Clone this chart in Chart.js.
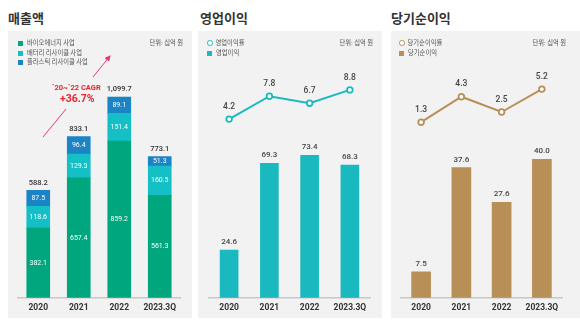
<!DOCTYPE html>
<html>
<head>
<meta charset="utf-8">
<script src="https://cdn.jsdelivr.net/npm/chart.js@4.4.0/dist/chart.umd.min.js"></script>
<style>
  body { margin: 0; width: 580px; height: 324px; background: #fff; position: relative; overflow: hidden;
         font-family: 'Noto Sans CJK KR', sans-serif; }
  .title { position: absolute; top: 8px; font-size: 13px; font-weight: bold; color: #333; line-height: 20px; }
  .panel { position: absolute; top: 31px; height: 287px; background: #f2f2f2; }
  canvas { position: absolute; top: 31px; }
  .leg { position: absolute; font-size: 6.3px; color: #555; line-height: 8px; white-space: nowrap; }
  .sq { display: inline-block; width: 5px; height: 5px; margin-right: 4px; vertical-align: -0.5px; }
  .ci { display: inline-block; width: 3.5px; height: 3.5px; border-radius: 50%; border: 1.3px solid; margin-right: 3px; vertical-align: -0.5px; background: #fff; }
  .unit { position: absolute; top: 39px; font-size: 6.3px; color: #555; line-height: 8px; white-space: nowrap; }
  .cagr { position: absolute; color: #e8232f; font-weight: bold; font-family: Roboto, sans-serif; white-space: nowrap; }
</style>
</head>
<body>
<div class="title" style="left:8px">매출액</div>
<div class="title" style="left:200px">영업이익</div>
<div class="title" style="left:391px">당기순이익</div>

<div class="panel" style="left:8px;width:184px"></div>
<div class="panel" style="left:198px;width:184px"></div>
<div class="panel" style="left:391px;width:189px"></div>

<canvas id="sales" width="184" height="287" style="left:8px"></canvas>
<canvas id="op" width="184" height="287" style="left:198px"></canvas>
<canvas id="net" width="184" height="287" style="left:391px"></canvas>

<div class="leg" style="left:18px;top:39px"><span class="sq" style="background:#00a67e"></span>바이오에너지 사업</div>
<div class="leg" style="left:18px;top:49px"><span class="sq" style="background:#14bfc6"></span>배터리 리사이클 사업</div>
<div class="leg" style="left:18px;top:58px"><span class="sq" style="background:#1b84c4"></span>플라스틱 리사이클 사업</div>
<div class="unit" style="right:397px">단위: 십억 원</div>

<div class="leg" style="left:207px;top:39px"><span class="ci" style="border-color:#1ab9c0"></span>영업이익률</div>
<div class="leg" style="left:207px;top:49px"><span class="sq" style="background:#1ab9c0"></span>영업이익</div>
<div class="unit" style="right:207px">단위: 십억 원</div>

<div class="leg" style="left:399px;top:39px"><span class="ci" style="border-color:#b98f58"></span>당기순이익률</div>
<div class="leg" style="left:399px;top:49px"><span class="sq" style="background:#b98f58"></span>당기순이익</div>
<div class="unit" style="right:14px">단위: 십억 원</div>

<svg style="position:absolute;left:0;top:0" width="580" height="324">
  <defs>
    <marker id="ah" markerWidth="6" markerHeight="6" refX="5" refY="3" orient="auto">
      <path d="M0,0 L6,3 L0,6 z" fill="#e8386a"/>
    </marker>
  </defs>
  <line x1="43" y1="137" x2="66" y2="109" stroke="#e8386a" stroke-width="1"/>
  <line x1="93" y1="77" x2="110" y2="56" stroke="#e8386a" stroke-width="1" marker-end="url(#ah)"/>
</svg>
<div class="cagr" style="left:52px;top:83px;font-size:7.5px">`20~`22 CAGR</div>
<div class="cagr" style="left:60px;top:92px;font-size:10.5px">+36.7%</div>

<script>
var years = ['2020', '2021', '2022', '2023.3Q'];
var bioEnergy = [382.1, 657.4, 859.2, 561.3];
var batteryRecycle = [118.6, 129.3, 151.4, 160.5];
var plasticRecycle = [87.5, 96.4, 89.1, 51.3];
var salesTotals = ['588.2', '833.1', '1,099.7', '773.1'];
var opMargin = [4.2, 7.8, 6.7, 8.8];
var opIncome = [24.6, 69.3, 73.4, 68.3];
var netMargin = [1.3, 4.3, 2.5, 5.2];
var netIncome = [7.5, 37.6, 27.6, 40.0];

var NUM_FONT = 'Roboto, sans-serif';

// draws value labels on bars and points
var valueLabels = {
  id: 'valueLabels',
  afterDatasetsDraw: function (chart) {
    var ctx = chart.ctx;
    ctx.save();
    ctx.textAlign = 'center';
    ctx.textBaseline = 'middle';
    chart.data.datasets.forEach(function (ds, i) {
      var meta = chart.getDatasetMeta(i);
      if (!ds.lbl) return;
      meta.data.forEach(function (el, j) {
        var txt = ds.lbl.texts ? ds.lbl.texts[j] : ds.data[j].toFixed(1);
        ctx.fillStyle = ds.lbl.color;
        ctx.font = ds.lbl.font;
        if (ds.lbl.pos === 'inside') {
          ctx.fillText(txt, el.x, (el.y + el.base) / 2);
        } else {
          ctx.fillText(txt, el.x, el.y - ds.lbl.offset);
        }
      });
    });
    ctx.restore();
  }
};

function xAxis() {
  return {
    offset: true,
    grid: { display: true, drawOnChartArea: false, drawTicks: false },
    border: { display: true, color: '#c8c8c8', width: 1.5 },
    ticks: { color: '#333', padding: 5, font: { family: NUM_FONT, size: 8.5, weight: 'bold' } }
  };
}

var baseOpts = function (pad, scales) {
  return {
    responsive: false,
    animation: false,
    layout: { padding: pad },
    plugins: { legend: { display: false }, tooltip: { enabled: false } },
    scales: scales
  };
};

new Chart(document.getElementById('sales'), {
  type: 'bar',
  data: {
    labels: years,
    datasets: [
      { label: '바이오에너지 사업', data: bioEnergy, backgroundColor: '#00a67e', barThickness: 23,
        lbl: { pos: 'inside', color: '#fff', font: '7px ' + NUM_FONT } },
      { label: '배터리 리사이클 사업', data: batteryRecycle, backgroundColor: '#14bfc6', barThickness: 23,
        lbl: { pos: 'inside', color: '#fff', font: '7px ' + NUM_FONT } },
      { label: '플라스틱 리사이클 사업', data: plasticRecycle, backgroundColor: '#1b84c4', barThickness: 23,
        lbl: { pos: 'inside', color: '#fff', font: '7px ' + NUM_FONT } },
      { label: 'total', data: plasticRecycle.map(function () { return 0; }), backgroundColor: 'rgba(0,0,0,0)', barThickness: 23,
        lbl: { pos: 'above', color: '#333', font: '500 7.5px ' + NUM_FONT, offset: 7.5, texts: salesTotals } }
    ]
  },
  options: baseOpts({ top: 39, left: 10, right: 12, bottom: 0 }, {
    x: Object.assign(xAxis(), { stacked: true }),
    y: { display: false, stacked: true, min: 0, max: 1248 }
  }),
  plugins: [valueLabels]
});

function combo(id, lineData, barData, color, pad, barMax, lineMin, lineMax, thick) {
  new Chart(document.getElementById(id), {
    type: 'bar',
    data: {
      labels: years,
      datasets: [
        { type: 'line', data: lineData, yAxisID: 'y2', order: 0, borderColor: color, borderWidth: 2,
          pointRadius: 2.8, pointBorderWidth: 1.8, pointBackgroundColor: '#fff', pointBorderColor: color,
          lbl: { pos: 'above', color: '#444', font: '500 8.5px ' + NUM_FONT, offset: 12.5 } },
        { data: barData, yAxisID: 'y', order: 1, backgroundColor: color, barThickness: thick,
          lbl: { pos: 'above', color: '#444', font: '500 8px ' + NUM_FONT, offset: 8 } }
      ]
    },
    options: baseOpts(pad, {
      x: xAxis(),
      y: { display: false, min: 0, max: barMax },
      y2: { display: false, min: lineMin, max: lineMax }
    }),
    plugins: [valueLabels]
  });
}

combo('op', opMargin, opIncome, '#1ab9c0', { top: 39, left: 11, right: 12, bottom: 0 }, 117.3, -23.93, 11.93, 18);
combo('net', netMargin, netIncome, '#b98f58', { top: 39, left: 10, right: 13, bottom: 0 }, 65.8, -19.39, 7.45, 19);
</script>
</body>
</html>
